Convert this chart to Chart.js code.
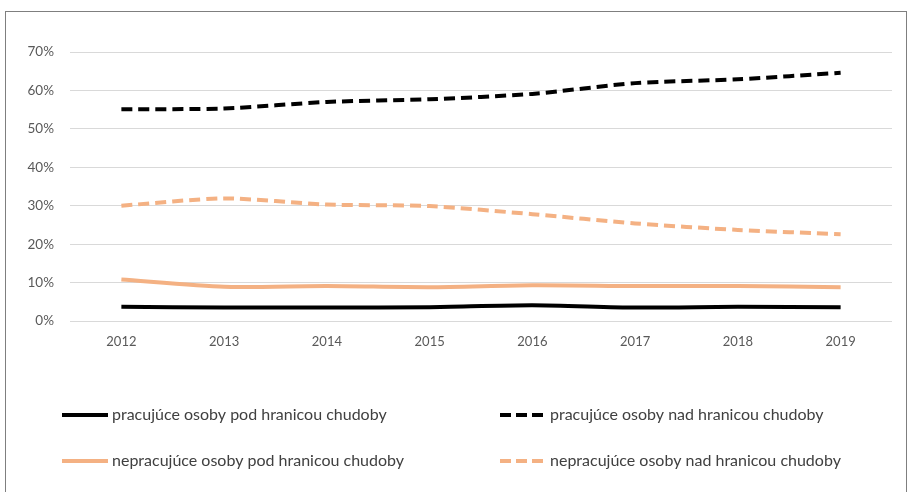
<!DOCTYPE html>
<html>
<head>
<meta charset="utf-8">
<script src="https://cdn.jsdelivr.net/npm/chart.js@4/dist/chart.umd.min.js"></script>
<style>
  html, body { margin: 0; padding: 0; background: #fff; }
  #wrap { position: relative; width: 912px; height: 492px; overflow: hidden; }
  #frame { position: absolute; left: 5px; top: 11px; width: 902px; height: 500px; border: 1.5px solid #7f7f7f; box-sizing: border-box; }
  #c { position: absolute; left: 0; top: 0; }
</style>
</head>
<body>
<div id="wrap">
  <div id="frame"></div>
  <canvas id="c" width="912" height="492"></canvas>
</div>
<script>
// rok → podiel v %
const YEARS = ["2012", "2013", "2014", "2015", "2016", "2017", "2018", "2019"];
const WORK_POOR     = [3.7, 3.5, 3.5, 3.6, 4.1, 3.5, 3.7, 3.6];
const WORK_NONPOOR  = [55.1, 55.3, 57.0, 57.7, 59.1, 61.9, 62.9, 64.6];
const IDLE_POOR     = [10.8, 8.9, 9.1, 8.8, 9.3, 9.1, 9.1, 8.8];
const IDLE_NONPOOR  = [30.0, 31.9, 30.3, 29.9, 27.8, 25.4, 23.7, 22.6];
const SERIES_NAMES = [
  "pracujúce osoby pod hranicou chudoby",
  "pracujúce osoby nad hranicou chudoby",
  "nepracujúce osoby pod hranicou chudoby",
  "nepracujúce osoby nad hranicou chudoby",
];

const BLACK  = "#000000";
const ORANGE = "#f4b183";
const DASH   = [11, 6];
const FONT   = "Lato, 'Open Sans', sans-serif";

const mkSet = (label, data, color, dashed) => ({
  label, data,
  borderColor: color,
  backgroundColor: color,
  borderWidth: 4,
  borderDash: dashed ? DASH : [],
  borderCapStyle: "butt",
  pointRadius: 0,
  tension: 0.25,
  fill: false,
});

// legenda v dvoch stĺpcoch ako v Exceli
const legendPlugin = {
  id: "gridLegend",
  afterDraw(chart) {
    const ctx = chart.ctx;
    const cols = [62, 500];
    const rows = [415, 461];
    ctx.save();
    ctx.font = "16px " + FONT;
    ctx.fillStyle = "#404040";
    ctx.textBaseline = "middle";
    chart.data.datasets.forEach((ds, i) => {
      const x = cols[i % 2], y = rows[Math.floor(i / 2)];
      ctx.beginPath();
      ctx.strokeStyle = ds.borderColor;
      ctx.lineWidth = 4;
      ctx.setLineDash(ds.borderDash.length ? [11, 5] : []);
      ctx.moveTo(x, y);
      ctx.lineTo(x + 46, y);
      ctx.stroke();
      ctx.setLineDash([]);
      ctx.fillText(ds.label, x + 50, y);
    });
    ctx.restore();
  },
};

new Chart(document.getElementById("c"), {
  type: "line",
  data: {
    labels: YEARS,
    datasets: [
      mkSet(SERIES_NAMES[0], WORK_POOR, BLACK, false),
      mkSet(SERIES_NAMES[1], WORK_NONPOOR, BLACK, true),
      mkSet(SERIES_NAMES[2], IDLE_POOR, ORANGE, false),
      mkSet(SERIES_NAMES[3], IDLE_NONPOOR, ORANGE, true),
    ],
  },
  options: {
    responsive: false,
    animation: false,
    layout: { padding: { left: 0, right: 20, top: 52, bottom: 0 } },
    plugins: { legend: { display: false }, tooltip: { enabled: false } },
    scales: {
      x: {
        offset: true,
        grid: { display: false, drawTicks: false },
        border: { display: false },
        ticks: { color: "#595959", font: { family: FONT, size: 13 }, padding: 13, maxRotation: 0 },
        afterFit: (s) => { s.height = 171; },
      },
      y: {
        min: 0, max: 70,
        grid: { color: "#d9d9d9", lineWidth: 1, drawTicks: false },
        border: { display: false },
        ticks: { stepSize: 10, color: "#595959", font: { family: FONT, size: 13.5 }, padding: 16, callback: (v) => v + "%" },
        afterFit: (s) => { s.width = 70; },
      },
    },
  },
  plugins: [legendPlugin],
});
</script>
</body>
</html>
